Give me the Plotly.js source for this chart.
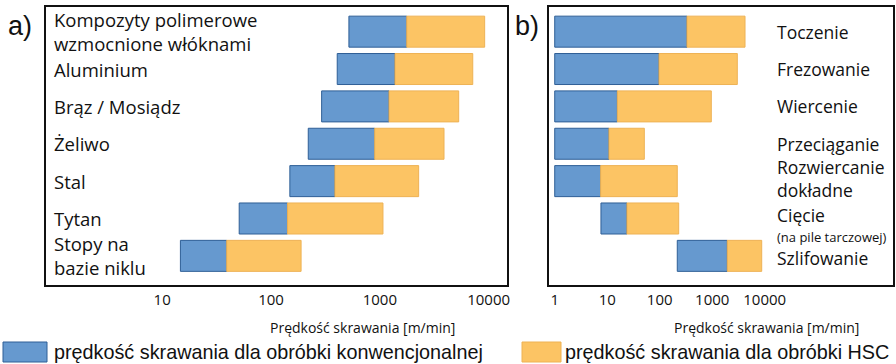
<!DOCTYPE html>
<html>
<head>
<meta charset="utf-8">
<script src="https://cdn.plot.ly/plotly-3.0.1.min.js"></script>
<style>
html,body{margin:0;padding:0;background:#fff;}
#chart{width:896px;height:364px;}
</style>
</head>
<body>
<div id="chart"></div>
<script>
// ---- data (a) materials ----
const materials = ['Kompozyty polimerowe wzmocnione włóknami', 'Aluminium', 'Brąz / Mosiądz', 'Żeliwo', 'Stal', 'Tytan', 'Stopy na bazie niklu'];
const materialLabelLines = [['Kompozyty polimerowe', 'wzmocnione włóknami'], ['Aluminium'], ['Brąz / Mosiądz'], ['Żeliwo'], ['Stal'], ['Tytan'], ['Stopy na', 'bazie niklu']];
const matConvMin = [520, 406, 292, 220, 149, 51, 14.7];
const matConvMax = [1770, 1380, 1216, 898, 387, 142, 39.2];
const matHscMax = [9200, 7150, 5310, 3890, 2275, 1069, 189];

// ---- data (b) processes ----
const processes = ['Toczenie', 'Frezowanie', 'Wiercenie', 'Przeciąganie', 'Rozwiercanie dokładne', 'Cięcie (na pile tarczowej)', 'Szlifowanie'];
const processLabelLines = [['Toczenie'], ['Frezowanie'], ['Wiercenie'], ['Przeciąganie'], ['Rozwiercanie', 'dokładne'], ['Cięcie', '(na pile tarczowej)'], ['Szlifowanie']];
const procConvMin = [1, 1, 1, 1, 1, 7.6, 216];
const procConvMax = [331, 97, 15.6, 10.8, 7.5, 23.8, 1940];
const procHscMax = [4217, 3008, 961, 50.9, 216, 230, 8770];

const ticksA = [10, 100, 1000, 10000];
const ticksB = [1, 10, 100, 1000, 10000];
const axisTitle = 'Prędkość skrawania [m/min]';
const legendConv = 'prędkość skrawania dla obróbki konwencjonalnej';
const legendHsc = 'prędkość skrawania dla obróbki HSC';

// ---- styles ----
const BLUE = '#6699cf', BLUE_EDGE = '#2f5f96';
const ORANGE = '#fcc464', ORANGE_EDGE = '#eeb255';
const FAM = 'Open Sans, Noto Sans, sans-serif';
const LABEL_FONT = {family: FAM, size: 18.5, color: '#111'};
const LABEL_FONT_B = {family: FAM, size: 17.5, color: '#111'};
const TICK_FONT = {family: FAM, size: 15, color: '#111'};
const W = 896, H = 364;
const px = v => v / W;
const py = v => 1 - v / H;
const BAR_W = 0.83;

function diff(a, b) { return a.map((v, i) => v - b[i]); }

const traces = [
  {type: 'bar', orientation: 'h', y: materials, base: matConvMin, x: diff(matConvMax, matConvMin),
   xaxis: 'x', yaxis: 'y', width: BAR_W, marker: {color: BLUE, line: {color: BLUE_EDGE, width: 1}}, hoverinfo: 'skip'},
  {type: 'bar', orientation: 'h', y: materials, base: matConvMax, x: diff(matHscMax, matConvMax),
   xaxis: 'x', yaxis: 'y', width: BAR_W, marker: {color: ORANGE, line: {color: ORANGE_EDGE, width: 1}}, hoverinfo: 'skip'},
  {type: 'bar', orientation: 'h', y: processes, base: procConvMin, x: diff(procConvMax, procConvMin),
   xaxis: 'x2', yaxis: 'y2', width: BAR_W, marker: {color: BLUE, line: {color: BLUE_EDGE, width: 1}}, hoverinfo: 'skip'},
  {type: 'bar', orientation: 'h', y: processes, base: procConvMax, x: diff(procHscMax, procConvMax),
   xaxis: 'x2', yaxis: 'y2', width: BAR_W, marker: {color: ORANGE, line: {color: ORANGE_EDGE, width: 1}}, hoverinfo: 'skip'}
];

const yDomain = [py(285), py(7)];
const yRange = [6.78, -0.66];
const frame = {showline: true, mirror: true, linecolor: '#111', linewidth: 2, showgrid: false, zeroline: false};

const layout = {
  width: W, height: H,
  margin: {l: 0, r: 0, t: 0, b: 0},
  paper_bgcolor: '#fff', plot_bgcolor: '#fff',
  showlegend: false,
  barmode: 'overlay',
  xaxis: Object.assign({}, frame, {type: 'log', domain: [px(46), px(507)], range: [-0.068, 4.169],
    tickvals: ticksA, ticktext: ticksA.map(String), ticks: '', tickfont: TICK_FONT, anchor: 'y'}),
  yaxis: Object.assign({}, frame, {type: 'category', domain: yDomain, range: yRange, showticklabels: false, ticks: '', anchor: 'x'}),
  xaxis2: Object.assign({}, frame, {type: 'log', domain: [px(549), px(893)], range: [-0.109, 6.444],
    tickvals: ticksB, ticktext: ticksB.map(String), ticks: '', tickfont: TICK_FONT, anchor: 'y2'}),
  yaxis2: Object.assign({}, frame, {type: 'category', domain: yDomain, range: yRange, showticklabels: false, ticks: '', anchor: 'x2'}),
  annotations: [],
  shapes: []
};

// category labels
function addLabels(cats, lines, yref, xPix, font) {
  cats.forEach((c, i) => {
    const ls = lines[i];
    const base = {xref: 'paper', x: px(xPix), xanchor: 'left', align: 'left', yref: yref, y: c,
      yanchor: 'middle', showarrow: false, borderpad: 0};
    if (ls.length === 2 && ls[1].startsWith('(')) {
      // main word + small note underneath
      layout.annotations.push(Object.assign({}, base, {text: ls[0], yshift: 3, font: font}));
      layout.annotations.push(Object.assign({}, base, {text: ls[1], yshift: -18.5,
        font: Object.assign({}, font, {size: 13})}));
    } else {
      let shift = 0;
      if (yref === 'y2' && ls.length === 2) shift = 3;
      if (yref === 'y2' && i === cats.length - 1) shift = -2;
      layout.annotations.push(Object.assign({}, base, {text: ls.join('<br>'), yshift: shift, font: font}));
    }
  });
}
addLabels(materials, materialLabelLines, 'y', 53, LABEL_FONT);
addLabels(processes, processLabelLines, 'y2', 776, LABEL_FONT_B);

// panel letters
[['a)', 6], ['b)', 513]].forEach(([t, x]) => {
  layout.annotations.push({text: t, xref: 'paper', yref: 'paper', x: px(x), y: py(26), xanchor: 'left', yanchor: 'middle',
    showarrow: false, font: {family: 'Liberation Sans, Arial, sans-serif', size: 27, color: '#111'}});
});

// axis titles
[[362, axisTitle], [766, axisTitle]].forEach(([x, t]) => {
  layout.annotations.push({text: t, xref: 'paper', yref: 'paper', x: px(x), y: py(327), xanchor: 'center', yanchor: 'middle',
    showarrow: false, font: {family: FAM, size: 14, color: '#111'}});
});

// legend
[[3, 47, BLUE, BLUE_EDGE, legendConv, 52], [522, 561, ORANGE, ORANGE_EDGE, legendHsc, 563]].forEach(([x0, x1, fc, lc, t, tx]) => {
  layout.shapes.push({type: 'rect', xref: 'paper', yref: 'paper', x0: px(x0), x1: px(x1), y0: py(362), y1: py(342),
    fillcolor: fc, line: {color: lc, width: 1}});
  layout.annotations.push({text: t, xref: 'paper', yref: 'paper', x: px(tx), y: py(352), xanchor: 'left', yanchor: 'middle',
    showarrow: false, font: {family: 'Liberation Sans, Arial, sans-serif', size: 19.8, color: '#111'}});
});

Plotly.newPlot('chart', traces, layout, {displayModeBar: false, staticPlot: true});
</script>
</body>
</html>
